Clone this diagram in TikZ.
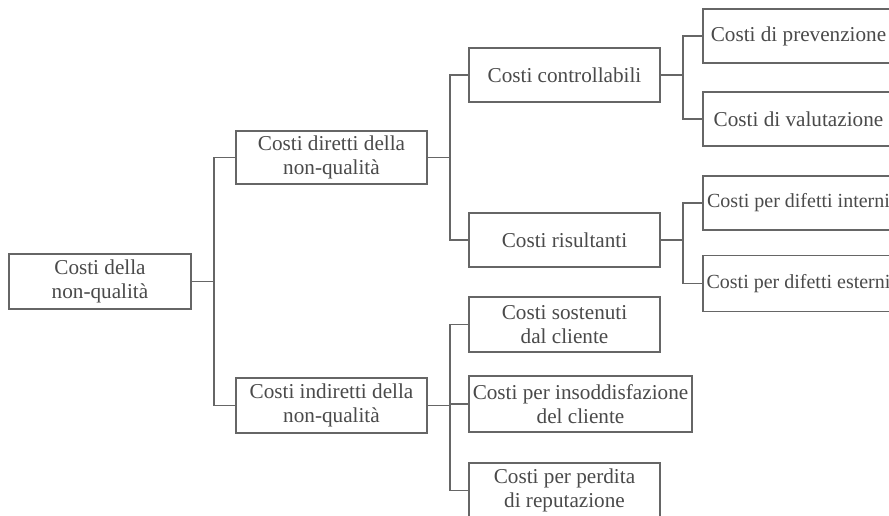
\documentclass[tikz,border=0pt]{standalone}
\usepackage{fontspec}
\setmainfont{Liberation Serif}
\definecolor{ink}{HTML}{4A4A4A}
\definecolor{edge}{HTML}{666666}
\tikzset{
  box/.style={draw=edge, line width=1.8pt, text=ink, align=center, inner sep=0pt,
    minimum width=191pt, minimum height=54pt,
    font=\fontsize{21.2}{24.5}\selectfont},
  tight/.style={font=\fontsize{20}{24}\selectfont},
  link/.style={draw=edge, line width=1.8pt}
}
\begin{document}
\begin{tikzpicture}[x=1pt,y=-1pt]
\useasboundingbox (0,0) rectangle (889,515);
\fill[white] (0,0) rectangle (889,515);
\clip (0,0) rectangle (889,515);
\node[box, minimum width=182pt, minimum height=55pt] (root) at (100,281.5) {Costi della\\non-qualità};
\node[box, minimum height=53pt] (dir) at (331.5,157.5) {Costi diretti della\\non-qualità};
\node[box, minimum height=55pt] (ind) at (331.5,405.5) {Costi indiretti della\\non-qualità};
\node[box] (ctrl) at (564.5,75) {Costi controllabili};
\node[box] (ris) at (564.5,240) {Costi risultanti};
\node[box] (prev) at (798.5,36) {Costi di prevenzione};
\node[box] (val) at (798.5,119) {Costi di valutazione};
\node[box, tight] (int) at (798.5,203) {Costi per difetti interni};
\node[box, tight, minimum height=56pt] (est) at (798.5,283.5) {Costi per difetti esterni};
\node[box, minimum height=55pt] (sost) at (564.5,324.5) {Costi sostenuti\\dal cliente};
\node[box, minimum width=223pt, minimum height=56pt] (ins) at (580.5,404) {Costi per insoddisfazione\\del cliente};
\node[box, minimum height=55pt] (rep) at (564.5,490.5) {Costi per perdita\\di reputazione};
\foreach \p/\c in {root/dir, root/ind, dir/ctrl, dir/ris, ctrl/prev, ctrl/val, ris/int, ris/est, ind/sost, ind/ins, ind/rep}
  \draw[link] (\p.east) -- ++(22,0) |- (\c.west);
\end{tikzpicture}
\end{document}
